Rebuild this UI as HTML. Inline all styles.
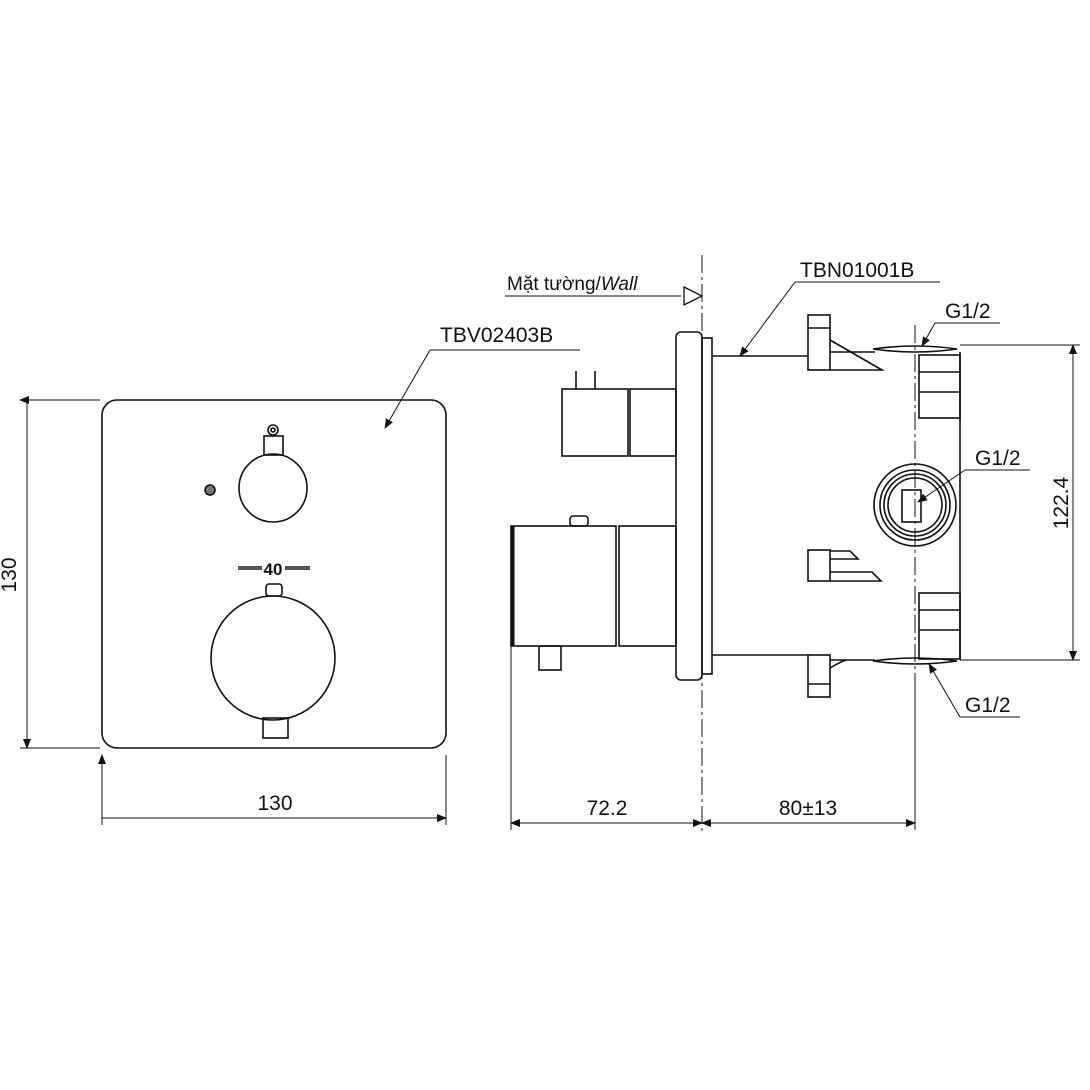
<!DOCTYPE html>
<html><head><meta charset="utf-8"><style>body{margin:0;background:#fff}svg{display:block}text{font-family:"Liberation Sans",sans-serif;fill:#111}</style></head><body>
<svg width="1090" height="1090" viewBox="0 0 1090 1090" xmlns="http://www.w3.org/2000/svg">
<defs><marker id="a" markerWidth="10" markerHeight="8" refX="9" refY="4" orient="auto" markerUnits="userSpaceOnUse"><path d="M0,0 L10,4 L0,8 Z" fill="#111"/></marker>
<marker id="b" markerWidth="10" markerHeight="8" refX="1" refY="4" orient="auto" markerUnits="userSpaceOnUse"><path d="M10,0 L0,4 L10,8 Z" fill="#111"/></marker></defs>
<g fill="none" stroke="#111" stroke-width="1.6">
<rect x="102" y="400" width="344" height="348" rx="15"/>
<circle cx="273" cy="488" r="34"/>
<rect x="264" y="436" width="19" height="19"/>
<circle cx="273" cy="430" r="5"/><circle cx="273" cy="430" r="2"/>
<circle cx="210" cy="490" r="5" fill="#777"/>
<circle cx="273" cy="658" r="62"/>
<rect x="266" y="584" width="16" height="12" rx="3"/>
<rect x="263" y="718" width="25" height="20"/>
<path d="M238 568h24M285 568h25" stroke-width="4" stroke="#555"/>
<g stroke-width="1"><path d="M20 400h80M20 748h80M27 400v348" marker-start="url(#b)" marker-end="url(#a)"/>
<path d="M102 755v70M446 755v70M102 818h344" marker-start="url(#b)" marker-end="url(#a)"/>
<path d="M430 350h150"/><path d="M430 350L385 428" marker-end="url(#a)"/>
</g>
<path d="M702 255v580" stroke-width="1" stroke-dasharray="18 4 3 4"/>
<path d="M915 325v505" stroke-width="1" stroke-dasharray="18 4 3 4"/>
<rect x="676" y="332" width="26" height="348" rx="5"/>
<rect x="702" y="338" width="10" height="336"/>
<path d="M712 356h96M712 655h96"/>
<rect x="808" y="315" width="22" height="55"/><path d="M808 328h22M830 340L882 370H830"/>
<path d="M830 352h45"/>
<path d="M873 349q42-6 84 0q-42 6-84 0z"/>
<rect x="919" y="355" width="41" height="63"/><path d="M919 372h41M919 392h41"/>
<path d="M960 352v308"/>
<circle cx="915" cy="505" r="41"/><circle cx="915" cy="505" r="35"/><circle cx="915" cy="505" r="31"/><circle cx="915" cy="505" r="27"/>
<rect x="902" y="490" width="19" height="32"/>
<rect x="808" y="550" width="22" height="31"/><path d="M830 551h20l8 8h-28M830 572h42l9 9h-51"/>
<rect x="919" y="593" width="41" height="66"/><path d="M919 610h41M919 630h41"/>
<path d="M830 660h45"/>
<path d="M873 661q42-6 84 0q-42 6-84 0z"/>
<rect x="808" y="655" width="22" height="42"/><path d="M808 684h22M830 668q10-6 16-8"/>
<rect x="562" y="389" width="66" height="67"/><rect x="630" y="389" width="46" height="67"/>
<path d="M576 371v18M595 371v18"/>
<rect x="511" y="526" width="105" height="120"/><path d="M513 526v120" stroke-width="3"/><rect x="619" y="526" width="57" height="120"/>
<rect x="570" y="516" width="18" height="10" rx="3"/>
<rect x="539" y="646" width="22" height="24"/>
<g stroke-width="1">
<path d="M511 646v184M702 823h0M915 680v150"/>
<path d="M511 823h191" marker-start="url(#b)" marker-end="url(#a)"/>
<path d="M702 823h213" marker-start="url(#b)" marker-end="url(#a)"/>
<path d="M960 345h120M960 660h120"/>
<path d="M1073 345v315" marker-start="url(#b)" marker-end="url(#a)"/>
<path d="M505 296h176"/>
<path d="M684 287l18 9l-18 9z" stroke-width="1.3"/>
<path d="M795 282h145M795 282L740 356" marker-end="url(#a)"/>
<path d="M935 323h65M935 323L922 346" marker-end="url(#a)"/>
<path d="M965 470h65M965 470L918 502" marker-end="url(#a)"/>
<path d="M960 717h60M960 717L929 664" marker-end="url(#a)"/>
</g></g>
<g font-size="21">
<text x="440" y="342">TBV02403B</text>
<text x="16" y="575" transform="rotate(-90 16 575)" text-anchor="middle">130</text>
<text x="275" y="810" text-anchor="middle">130</text>
<text x="273" y="575" text-anchor="middle" font-weight="bold" font-size="17">40</text>
<text x="507" y="290" font-size="19">Mặt tường/<tspan font-style="italic">Wall</tspan></text>
<text x="800" y="277">TBN01001B</text>
<text x="945" y="318">G1/2</text>
<text x="975" y="465">G1/2</text>
<text x="965" y="712">G1/2</text>
<text x="607" y="815" text-anchor="middle">72.2</text>
<text x="808" y="815" text-anchor="middle">80±13</text>
<text x="1068" y="503" transform="rotate(-90 1068 503)" text-anchor="middle">122.4</text>
</g>
</svg>
</body></html>
